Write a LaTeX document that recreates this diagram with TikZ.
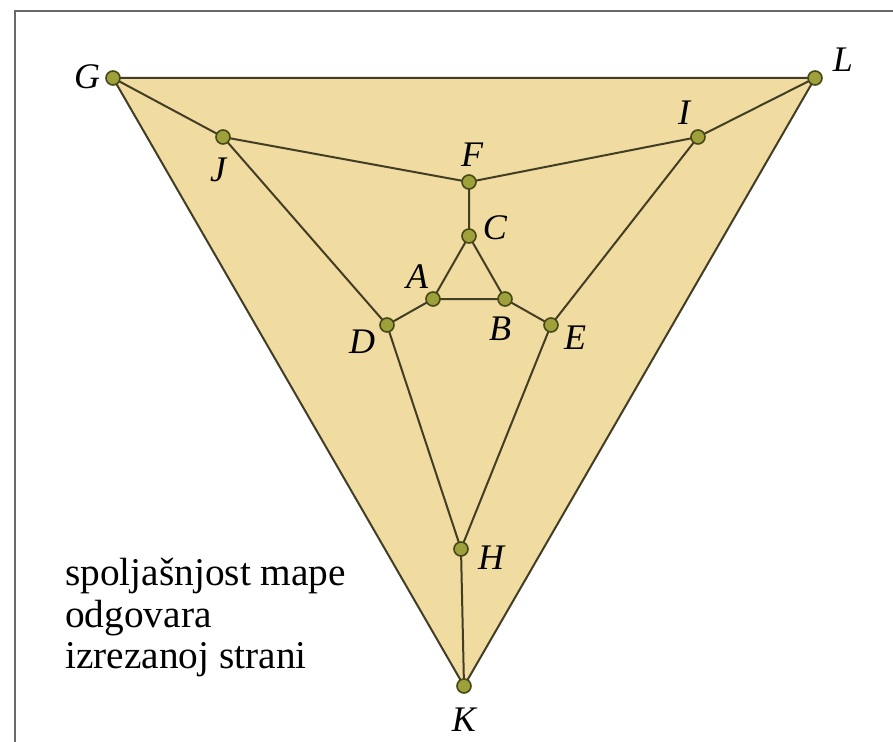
\documentclass[tikz,border=0pt]{standalone}
\usepackage{fontspec}
\setmainfont{Liberation Serif}
\definecolor{tanfill}{RGB}{240,219,160}
\definecolor{edgecol}{RGB}{66,62,38}
\definecolor{dotfill}{RGB}{158,160,58}
\definecolor{dotline}{RGB}{70,72,25}
\definecolor{framecol}{RGB}{105,105,105}
\tikzset{
  vtx/.style={circle,fill=dotfill,draw=dotline,line width=1.2pt,minimum size=10.5pt,inner sep=0pt},
  lbl/.style={font=\fontsize{27}{30}\selectfont\itshape,inner sep=0pt},
  edge/.style={draw=edgecol,line width=1.5pt},
  txt/.style={font=\fontsize{29.5}{32}\selectfont,inner sep=0pt,anchor=base west}
}
\begin{document}
\begin{tikzpicture}[x=0.75pt,y=-0.75pt]
\useasboundingbox (0,0) rectangle (893,742);
\fill[white] (0,0) rectangle (893,742);
\draw[framecol,line width=1.6pt] (15,742) -- (15,11) -- (893,11);
% coordinates
\coordinate (g) at (113,78);
\coordinate (l) at (815,78);
\coordinate (k) at (464,686);
\coordinate (j) at (223,137);
\coordinate (i) at (698,137);
\coordinate (f) at (469,182);
\coordinate (c) at (469,236);
\coordinate (a) at (433,299);
\coordinate (b) at (505,299);
\coordinate (d) at (387,325);
\coordinate (e) at (551,325);
\coordinate (h) at (461,549);
\fill[tanfill] (g) -- (l) -- (k) -- cycle;
\path[edge] (g) -- (l) -- (k) -- cycle;
\path[edge] (g) -- (j) -- (f) -- (i) -- (l);
\path[edge] (f) -- (c) -- (a) -- (b) -- (c);
\path[edge] (j) -- (d) -- (a);
\path[edge] (i) -- (e) -- (b);
\path[edge] (d) -- (h) -- (e);
\path[edge] (h) -- (k);
\foreach \n in {g,l,k,j,i,f,c,a,b,d,e,h}
  \node[vtx] (N\n) at (\n) {};
% labels
\node[lbl] (LG) at (87,77) {G};
\node[lbl] (LL) at (843,60) {L};
\node[lbl] (LK) at (464,720) {K};
\node[lbl] (LJ) at (218,170) {J};
\node[lbl] (LI) at (684,113) {I};
\node[lbl] (LF) at (472,155) {F};
\node[lbl] (LC) at (495,228) {C};
\node[lbl] (LA) at (417,277) {A};
\node[lbl] (LB) at (500,329) {B};
\node[lbl] (LD) at (362,342) {D};
\node[lbl] (LE) at (575,338) {E};
\node[lbl] (LH) at (491,558) {H};
% text
\node[txt] (t1) at (65,585) {spoljašnjost mape};
\node[txt] (t2) at (65,627) {odgovara};
\node[txt] (t3) at (65,668) {izrezanoj strani};
\end{tikzpicture}
\end{document}
